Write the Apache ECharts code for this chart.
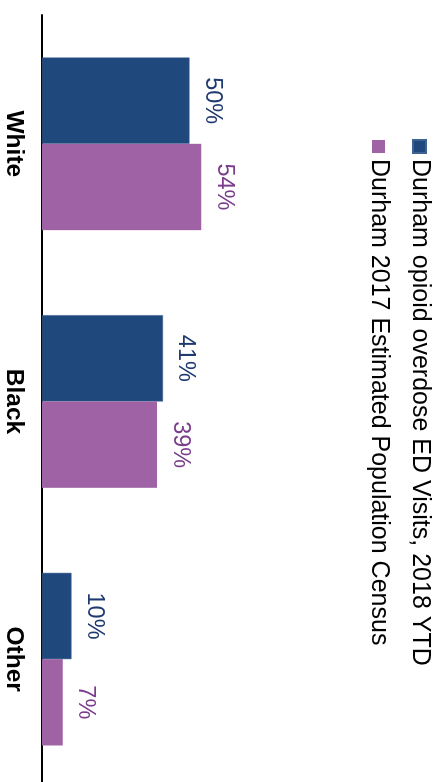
<!DOCTYPE html>
<html>
<head>
<meta charset="utf-8">
<script src="https://cdn.jsdelivr.net/npm/echarts@6/dist/echarts.min.js"></script>
<style>
html,body{margin:0;padding:0;width:440px;height:782px;overflow:hidden;background:#fff;}
#chart{position:absolute;left:0;top:0;width:800px;height:440px;transform-origin:0 0;transform:translate(440px,0) rotate(90deg);}
</style>
</head>
<body>
<div id="chart"></div>
<script>
var categories = ['White', 'Black', 'Other'];
var seriesNames = ['Durham opioid overdose ED Visits, 2018 YTD', 'Durham 2017 Estimated Population Census'];
var edVisits = [50, 41, 10];
var census = [54, 39, 7];

var chart = echarts.init(document.getElementById('chart'), null, {renderer: 'canvas'});
var font = '"Liberation Sans", Arial, sans-serif';
chart.setOption({
  animation: false,
  backgroundColor: '#ffffff',
  textStyle: {fontFamily: font},
  legend: {
    orient: 'vertical',
    left: 134,
    top: 3,
    itemWidth: 13,
    itemHeight: 13,
    itemGap: 16,
    icon: 'rect',
    textStyle: {fontSize: 25, color: '#000', fontFamily: font, padding: [0,0,0,1]},
    data: seriesNames
  },
  grid: {left: 15, width: 773, bottom: 42, height: 295, containLabel: false},
  xAxis: {
    type: 'category',
    data: categories,
    axisLine: {show: true, lineStyle: {color: '#000', width: 2}},
    axisTick: {show: false},
    axisLabel: {fontSize: 24.5, fontWeight: 'bold', color: '#000', margin: 16, fontFamily: font}
  },
  yAxis: {
    type: 'value', min: 0, max: 100,
    show: false
  },
  series: [
    {
      name: seriesNames[0], type: 'bar', data: edVisits,
      barGap: '0%', barCategoryGap: '33%',
      itemStyle: {color: '#1F497D', borderColor: '#3E6392', borderWidth: 0.5},
      label: {show: true, position: 'top', distance: 11, formatter: '{c}%', fontSize: 23.5, color: '#1F3A70', fontFamily: font}
    },
    {
      name: seriesNames[1], type: 'bar', data: census,
      itemStyle: {color: '#9E62A5'},
      label: {show: true, position: 'top', distance: 11, formatter: '{c}%', fontSize: 23.5, color: '#7A3D8C', fontFamily: font}
    }
  ]
});
</script>
</body>
</html>
